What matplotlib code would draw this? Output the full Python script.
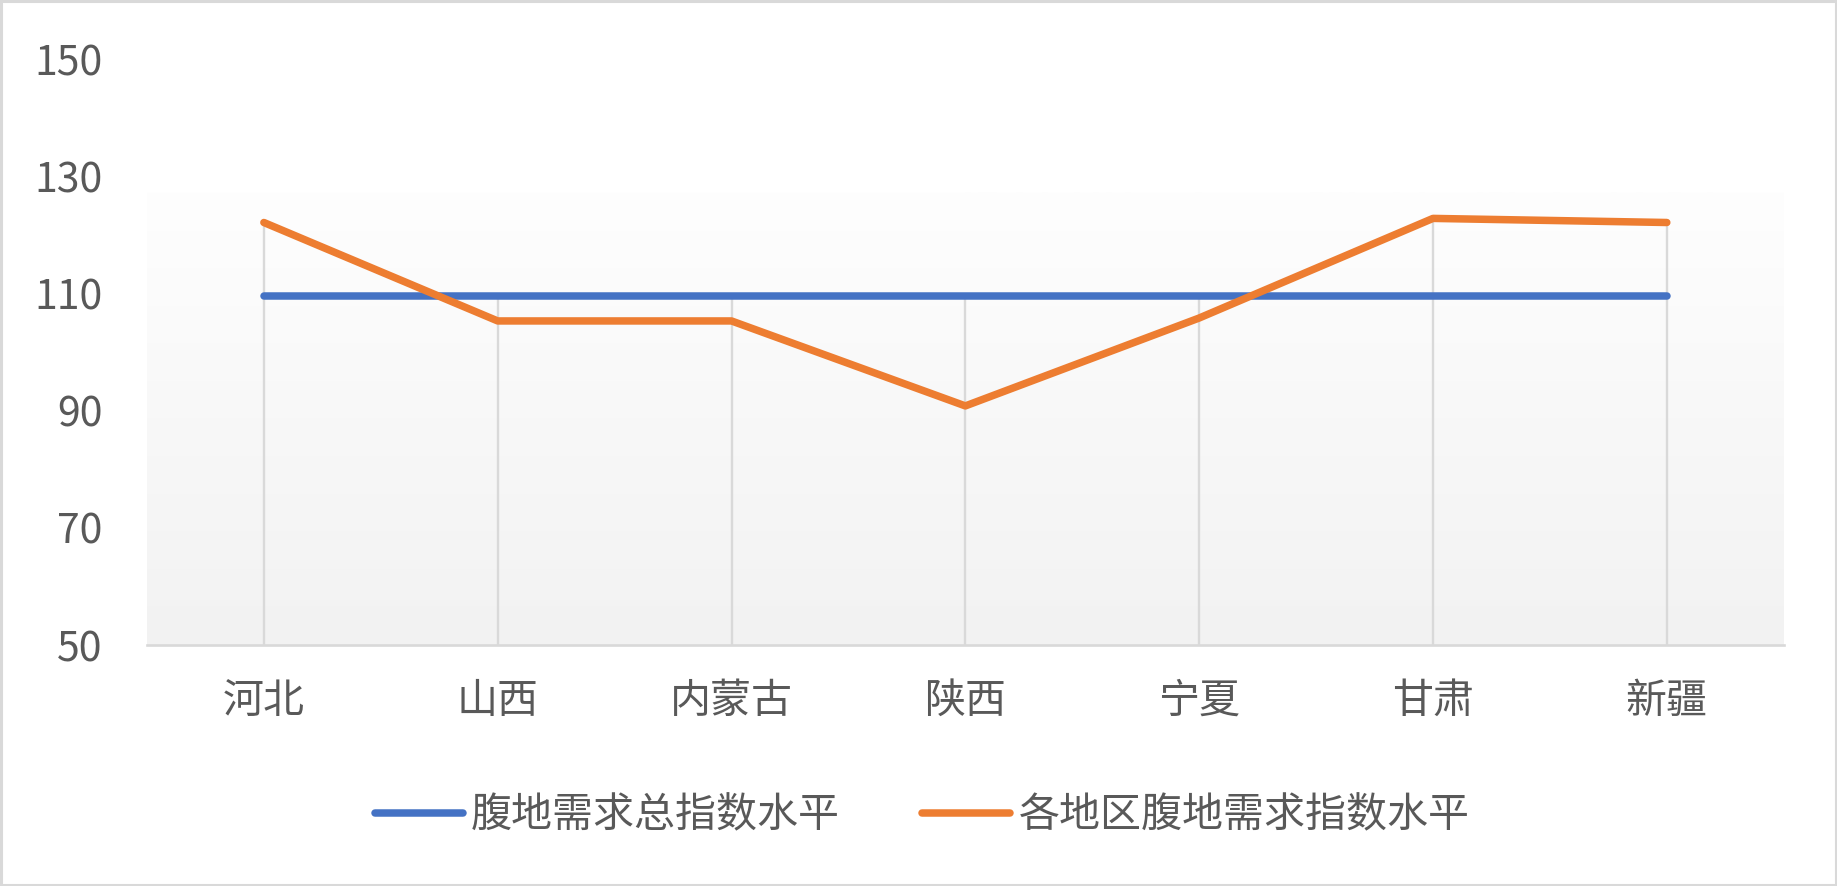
import numpy as np
import matplotlib
matplotlib.use("Agg")
import matplotlib.pyplot as plt
from matplotlib.patches import Rectangle
from matplotlib.colors import LinearSegmentedColormap

plt.rcParams['font.family'] = ['Noto Sans CJK SC', 'DejaVu Sans']

# data
regions = ["河北", "山西", "内蒙古", "陕西", "宁夏", "甘肃", "新疆"]
total_index = [109.6, 109.6, 109.6, 109.6, 109.6, 109.6, 109.6]
region_index = [122.1, 105.3, 105.3, 90.8, 105.8, 122.8, 122.1]
y_ticks = [50, 70, 90, 110, 130, 150]
series_names = ["腹地需求总指数水平", "各地区腹地需求指数水平"]

text_color = "#595959"
grid_color = "#d9d9d9"
fs = 29.5

fig = plt.figure(figsize=(18.37, 8.86), dpi=100)
ax = fig.add_axes([0.080, 0.272, 0.891, 0.6614])

# plot area gradient fill (lower part only, top stays white)
grad = np.linspace(0, 1, 256).reshape(-1, 1)
cmap = LinearSegmentedColormap.from_list("bg", ["#fefefe", "#f2f2f2"])
ax.imshow(grad, extent=[0, 1, 0, 0.772], transform=ax.transAxes, aspect="auto",
          cmap=cmap, zorder=0)

x = np.arange(len(regions))

# drop lines from the highest point down to the axis
tops = np.maximum(total_index, region_index)
ax.vlines(x, y_ticks[0], tops, color=grid_color, linewidth=1.7, zorder=1)

l1, = ax.plot(x, total_index, color="#4472c4", linewidth=5.4,
              solid_capstyle="round", solid_joinstyle="round", zorder=3)
l2, = ax.plot(x, region_index, color="#ed7d31", linewidth=5.4,
              solid_capstyle="round", solid_joinstyle="round", zorder=4)

ax.set_xlim(-0.5, len(regions) - 0.5)
ax.set_ylim(y_ticks[0], y_ticks[-1])
ax.set_yticks(y_ticks)
ax.set_xticks(x)
ax.set_xticklabels(regions)

for s in ["top", "right", "left"]:
    ax.spines[s].set_visible(False)
ax.spines["bottom"].set_color(grid_color)
ax.spines["bottom"].set_linewidth(1.9)
ax.spines["bottom"].set_zorder(2)

ax.tick_params(axis="both", length=0, labelsize=fs, labelcolor=text_color)
ax.tick_params(axis="y", pad=32)
ax.tick_params(axis="x", pad=26)

fig.legend([l1, l2], series_names, loc="center",
           bbox_to_anchor=(0.502, 1 - 816 / 886), ncol=2, frameon=False,
           fontsize=fs, handlelength=2.15, handletextpad=0.2,
           columnspacing=2.0, labelcolor=text_color)

# chart border
fig.patches.append(Rectangle((0.0008, 0.0015), 0.9984, 0.997,
                             transform=fig.transFigure, fill=False,
                             edgecolor=grid_color, linewidth=2.2))

fig.savefig("out.png", dpi=100, facecolor="white")
